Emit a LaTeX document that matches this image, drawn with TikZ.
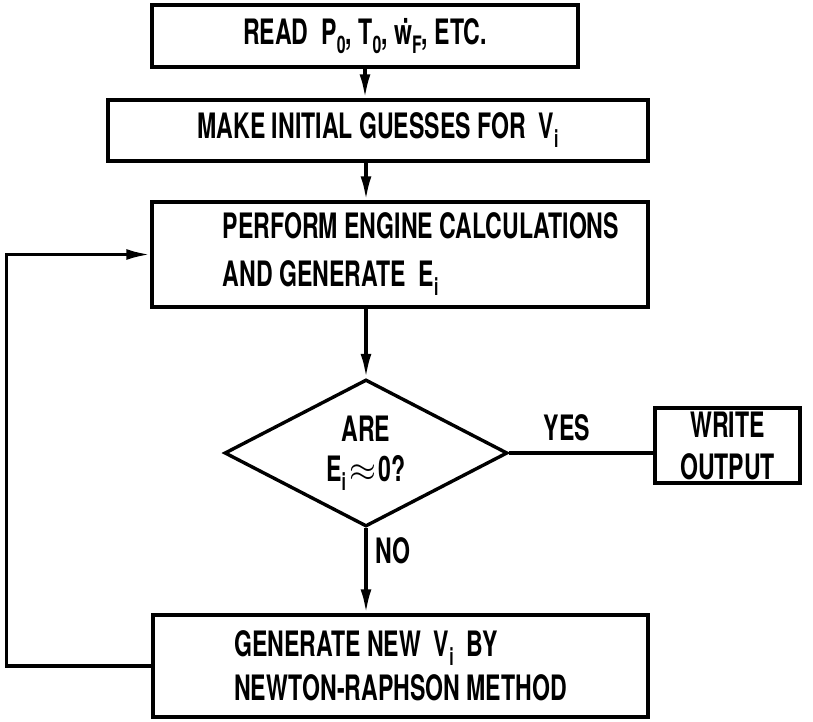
\documentclass[tikz,border=0pt]{standalone}
\usepackage{fontspec}
\newfontfamily\chartfont{TeX Gyre Heros}[FakeStretch=0.66]
\usetikzlibrary{positioning,shapes.geometric,arrows.meta,calc}
\newcommand{\lowsub}[1]{\raisebox{-4.5pt}{\fontsize{12}{12}\selectfont #1}}

\begin{document}
\begin{tikzpicture}[
    x=0.5pt, y=-0.5pt,
    >={Latex[length=12pt,width=5.5pt]},
    line width=1.7pt,
    arrow/.style={
        ->,
        line width=1.7pt,
    },
    proc/.style={
        rectangle,
        draw,
        inner sep=0pt,
        align=center,
        font=\chartfont\bfseries\fontsize{17.5}{21}\selectfont,
    },
    decide/.style={
        diamond,
        draw,
        aspect=1.9,
        inner sep=0pt,
        align=center,
        font=\chartfont\bfseries\fontsize{17.5}{19}\selectfont,
    },
    tag/.style={
        font=\chartfont\bfseries\fontsize{17.5}{21}\selectfont,
        inner sep=1pt,
    },
]

    \path[fill=white, use as bounding box] (0,0) rectangle (813,722);

    % === Main column ===
    \node[proc, minimum width=213pt, minimum height=31pt] (read) at (365,36)
        {READ\ \ P\lowsub{0}, T\lowsub{0}, \.{w}\lowsub{F}, ETC.};
    \node[proc, minimum width=270pt, minimum height=30.5pt] (guess) at (378,130.5)
        {MAKE INITIAL GUESSES FOR\ \ V\lowsub{i}};
    \node[proc, align=left, minimum width=248pt, minimum height=52.5pt] (calc) at (400,254.5)
        {\hspace*{21pt}PERFORM ENGINE CALCULATIONS\\[3pt]\hspace*{21pt}AND GENERATE\ \ E\lowsub{i}};
    \node[decide, minimum width=141.5pt, minimum height=73.5pt] (test) at (366,453)
        {ARE\\[1pt]E\lowsub{i}\hspace{2pt}$\approx$\hspace{1pt}0?};
    \node[proc, minimum width=72.5pt, minimum height=37.5pt] (write) at (727.5,445.5)
        {WRITE\\OUTPUT};
    \node[proc, align=left, minimum width=247.5pt, minimum height=51pt] (newv) at (400.5,666)
        {GENERATE NEW\ \ V\lowsub{i}\ \ BY\\[1pt]NEWTON-RAPHSON METHOD};

    % Main flow arrows
    \draw[arrow] (read.south) -- (read.south |- guess.north);
    \draw[arrow] (test |- guess.south) -- (test |- calc.north);
    \draw[arrow] (test |- calc.south) -- (test.north);
    \draw[arrow] (test.south) -- (test.south |- newv.north)
        node[tag, pos=0.27, anchor=west, xshift=3pt] {NO};
    \draw (test.east) -- (test.east -| write.west)
        node[tag, pos=0.4, above=4pt] {YES};

    % Iteration loop
    \draw[arrow] (newv.west) -- ++(-145,0) |- (calc.west);

\end{tikzpicture}
\end{document}
